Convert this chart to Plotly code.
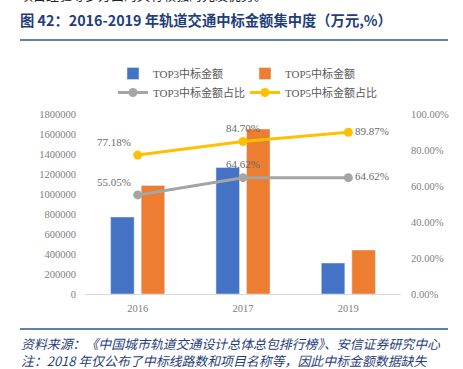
import plotly.graph_objects as go

years = ["2016", "2017", "2019"]
top3_amount = [770000, 1265000, 310000]
top5_amount = [1085000, 1650000, 440000]
top3_share = [0.5505, 0.6462, 0.6462]
top5_share = [0.7718, 0.8470, 0.8987]
left_ticks = [0, 200000, 400000, 600000, 800000, 1000000, 1200000, 1400000, 1600000, 1800000]
right_ticks = [0, 0.2, 0.4, 0.6, 0.8, 1.0]

serif = "'Liberation Serif', 'Times New Roman', 'Noto Sans CJK SC', serif"
sans = "'Noto Sans CJK SC', 'Liberation Sans', sans-serif"

L, R, T, B = 85, 401, 114, 294

fig = go.Figure()
fig.add_trace(go.Bar(x=years, y=top3_amount, name="TOP3中标金额", marker_color="#4472C4"))
fig.add_trace(go.Bar(x=years, y=top5_amount, name="TOP5中标金额", marker_color="#ED7D31"))
fig.add_trace(go.Scatter(
    x=years, y=top3_share, name="TOP3中标金额占比", yaxis="y2", mode="lines+markers+text",
    line=dict(color="#A5A5A5", width=3), marker=dict(size=9, color="#A5A5A5"),
    text=[f"{v*100:.2f}%" for v in top3_share],
    textposition=["top left", "top center", "middle right"],
    textfont=dict(family=serif, size=11, color="#6b6b6b")))
fig.add_trace(go.Scatter(
    x=years, y=top5_share, name="TOP5中标金额占比", yaxis="y2", mode="lines+markers+text",
    line=dict(color="#FFC000", width=3), marker=dict(size=9, color="#FFC000"),
    text=[f"{v*100:.2f}%" for v in top5_share],
    textposition=["top left", "top center", "middle right"],
    textfont=dict(family=serif, size=11, color="#6b6b6b")))


def px_x(px):
    return (px - L) / (R - L)


def px_y(py):
    return (B - py) / (B - T)


fig.update_layout(
    width=463, height=369,
    margin=dict(l=L, r=463 - R, t=T, b=369 - B, autoexpand=False),
    paper_bgcolor="white", plot_bgcolor="white",
    barmode="group", bargap=0.42, bargroupgap=0.23,
    showlegend=True,
    legend=dict(orientation="h", x=px_x(113), y=px_y(59), xanchor="left", yanchor="top",
                entrywidth=87, entrywidthmode="pixels", itemwidth=30,
                font=dict(family=serif, size=11, color="#595959"),
                traceorder="normal", tracegroupgap=0, bgcolor="rgba(0,0,0,0)"),
    xaxis=dict(type="category", showline=True, linecolor="#D9D9D9", linewidth=1,
               ticks="", showgrid=False, ticklabelstandoff=4,
               tickfont=dict(family=serif, size=10.5, color="#808080")),
    yaxis=dict(range=[0, 1800000], tickvals=left_ticks, ticktext=[str(v) for v in left_ticks],
               showgrid=False, zeroline=False, ticks="", ticklabelstandoff=8,
               tickfont=dict(family=serif, size=10.5, color="#808080")),
    yaxis2=dict(range=[0, 1.0], tickvals=right_ticks, tickformat=".2%", overlaying="y",
                side="right", showgrid=False, zeroline=False, ticks="", ticklabelstandoff=9,
                tickfont=dict(family=serif, size=10.5, color="#808080")),
    font=dict(family=serif),
)

fig.add_annotation(xref="paper", yref="paper", x=px_x(18), y=px_y(6), xanchor="left", yanchor="bottom",
                   text="项目经验等多方面的具有较强的先发优势。", showarrow=False,
                   font=dict(family=sans, size=13, color="#222222"))
fig.add_annotation(xref="paper", yref="paper", x=px_x(18), y=px_y(19), xanchor="left", yanchor="middle",
                   text="<b>图 42：2016-2019 年轨道交通中标金额集中度（万元,%）</b>", showarrow=False,
                   font=dict(family=sans, size=14.3, color="#1F3E7C"))
fig.add_shape(type="line", xref="paper", yref="paper", x0=px_x(20), x1=px_x(448), y0=px_y(40), y1=px_y(40),
              line=dict(color="#2F5597", width=1.5))
fig.add_shape(type="line", xref="paper", yref="paper", x0=px_x(20), x1=px_x(448), y0=px_y(329), y1=px_y(329),
              line=dict(color="#2F5597", width=1.5))
fig.add_annotation(xref="paper", yref="paper", x=px_x(19), y=px_y(352), xanchor="left", yanchor="middle",
                   align="left",
                   text="<i>资料来源：《中国城市轨道交通设计总体总包排行榜》、安信证券研究中心</i><br>"
                        "<i>注：2018 年仅公布了中标线路数和项目名称等，因此中标金额数据缺失</i>",
                   showarrow=False,
                   font=dict(family=sans, size=12.9, color="#1F3E7C"))

fig.write_html("out.html", post_script="document.body.style.margin='0';",
               config={"displayModeBar": False})
